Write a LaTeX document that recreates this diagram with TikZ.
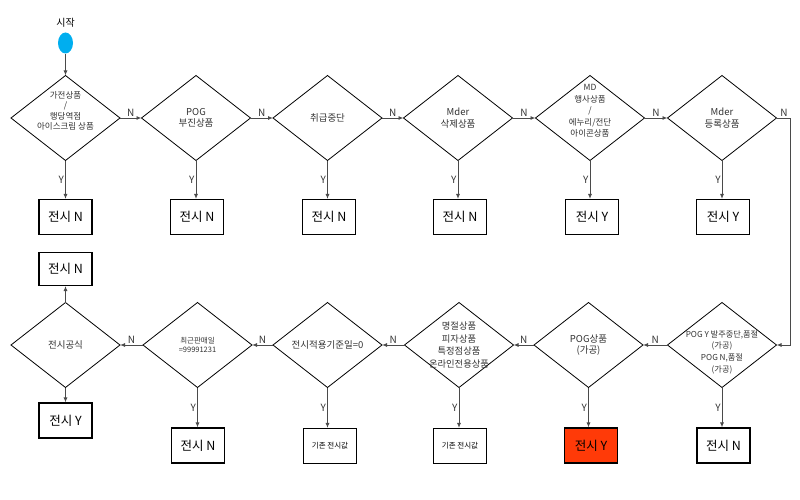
\documentclass[tikz,border=0pt]{standalone}
\usepackage{fontspec}
\setmainfont{Noto Sans CJK KR}
\usetikzlibrary{shapes.geometric,arrows.meta}
\definecolor{linegray}{HTML}{4A4A4A}
\definecolor{textgray}{HTML}{333333}
\definecolor{startblue}{HTML}{00AEEF}
\definecolor{alertred}{HTML}{FF3A08}
\tikzset{
  dia/.style={diamond, draw=black, line width=0.8pt, minimum width=109pt,
    minimum height=85pt, inner sep=0pt, outer sep=0pt},
  dtext/.style={text=textgray, font=\fontsize{8.5}{10.5}\selectfont, align=center, inner sep=0pt},
  btext/.style={dtext, font=\fontsize{9.5}{11.5}\selectfont},
  stext/.style={text=textgray, font=\fontsize{8.2}{11.7}\selectfont, align=center, inner sep=0pt},
  resbox/.style={draw=black, line width=1.1pt, minimum width=53pt, minimum height=35pt,
    inner sep=0pt, font=\fontsize{12.5}{14}\selectfont},
  smallbox/.style={resbox, font=\fontsize{7.5}{9}\selectfont},
  flow/.style={draw=linegray, line width=0.9pt, -{Latex[length=5pt,width=4pt]}},
  lab/.style={font=\fontsize{10}{11}\selectfont, text=textgray, inner sep=1pt}
}
\begin{document}
\begin{tikzpicture}[x=1pt,y=-1pt]
\useasboundingbox (0,0) rectangle (800,500);

% start
\node[font=\fontsize{10}{11}\selectfont] (title) at (65.5,23) {시작};
\node[ellipse, fill=startblue, minimum width=15pt, minimum height=21pt, inner sep=0pt] (start) at (65.5,43) {};

% upper row of decisions
\node[dia, label={[dtext, yshift=7pt]center:{가전상품\\/\\행당역점\\아이스크림 상품}}] (d1) at (65.5,118) {};
\node[dia, label={[btext]center:{POG\\부진상품}}] (d2) at (196,118) {};
\node[dia, label={[btext]center:{취급중단}}] (d3) at (327.5,118) {};
\node[dia, label={[btext]center:{Mder\\삭제상품}}] (d4) at (458,118) {};
\node[dia, label={[dtext, font=\fontsize{8.5}{11.5}\selectfont, yshift=7pt]center:{MD\\행사상품\\/\\에누리/전단\\아이콘상품}}] (d5) at (590,118) {};
\node[dia, label={[btext]center:{Mder\\등록상품}}] (d6) at (722,118) {};

% upper row of results
\node[resbox] (r1) at (65.5,217) {전시 N};
\node[resbox] (r2) at (197,217) {전시 N};
\node[resbox] (r3) at (329,217) {전시 N};
\node[resbox] (r4) at (460,217) {전시 N};
\node[resbox] (r5) at (592,217) {전시 Y};
\node[resbox] (r6) at (723,217) {전시 Y};

% lower row of decisions
\node[dia, label={[stext, yshift=-7pt]center:{POG Y 발주중단,품절\\(가공)\\POG N,품절\\(가공)}}] (d7) at (722,345) {};
\node[dia, label={[btext]center:{POG상품\\(가공)}}] (d8) at (588.5,345) {};
\node[dia, label={[dtext, font=\fontsize{9.3}{12.7}\selectfont]center:{명절상품\\피자상품\\특정점상품\\온라인전용상품}}] (d9) at (459,345) {};
\node[dia, label={[btext]center:{전시적용기준일=0}}] (d10) at (327.5,345) {};
\node[dia, label={[stext, font=\fontsize{7.5}{9.5}\selectfont]center:{최근판매일\\=99991231}}] (d11) at (197.5,345) {};
\node[dia, label={[btext]center:{전시공식}}] (d12) at (65.5,345) {};

% lower row of results
\node[resbox] (r7) at (723.5,445.5) {전시 N};
\node[resbox, fill=alertred] (r8) at (591,445.5) {전시 Y};
\node[smallbox] (r9) at (460,446) {기존 전시값};
\node[smallbox] (r10) at (330,446) {기존 전시값};
\node[resbox] (r11) at (198,445.5) {전시 N};
\node[resbox] (r12) at (65.5,420.5) {전시 Y};
\node[resbox, minimum height=33pt] (r13) at (65.5,269) {전시 N};

\coordinate (turnA) at (790,118);
\coordinate (turnB) at (790,345);

% connectors
\draw[flow] (start) -- (d1.north);
\foreach \a/\b in {d1/d2,d2/d3,d3/d4,d4/d5,d5/d6}{
  \draw[flow] (\a.east) -- node[lab, above] {N} (\b.west);
}
\draw[flow] (d6.east) -- node[lab, above, pos=0.55] {N} (turnA) -- (turnB) -- (d7.east);
\foreach \a/\b in {d7/d8,d8/d9,d9/d10,d10/d11,d11/d12}{
  \draw[flow] (\a.west) -- node[lab, above] {N} (\b.east);
}
\foreach \a/\b in {d1/r1,d2/r2,d3/r3,d4/r4,d5/r5,d6/r6,d7/r7,d8/r8,d9/r9,d10/r10,d11/r11}{
  \draw[flow] (\a.south) -- node[lab, left, pos=0.5] {Y} (\a.south |- \b.north);
}
\draw[flow] (d12.south) -- (r12.north);
\draw[flow] (d12.north) -- (r13.south);
\end{tikzpicture}
\end{document}
